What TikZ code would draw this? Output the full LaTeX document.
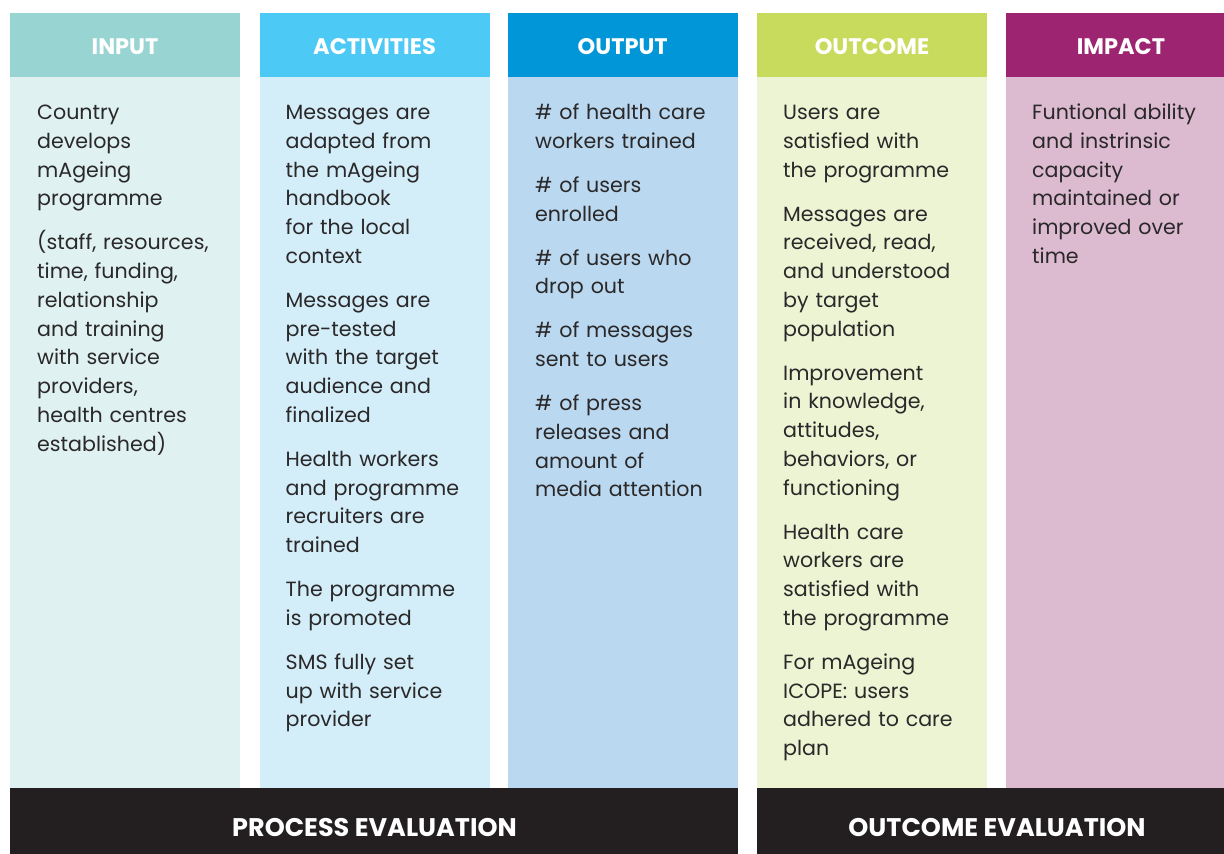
\documentclass[tikz,border=0pt]{standalone}
\usepackage{fontspec}
\setmainfont{Poppins}
\definecolor{inH}{HTML}{97D4D2}
\definecolor{inB}{HTML}{DFF1F1}
\definecolor{acH}{HTML}{4CC9F5}
\definecolor{acB}{HTML}{D3EDF9}
\definecolor{ouH}{HTML}{0096D7}
\definecolor{ouB}{HTML}{BAD8EF}
\definecolor{ocH}{HTML}{C9DB5C}
\definecolor{ocB}{HTML}{ECF4D3}
\definecolor{imH}{HTML}{9C2471}
\definecolor{imB}{HTML}{DCBAD0}
\definecolor{barC}{HTML}{231F20}
\definecolor{txtC}{HTML}{2A2829}
\tikzset{
  hdrtext/.style={text=white,font=\fontsize{22.5}{26}\selectfont\bfseries,inner sep=0pt,anchor=center},
  bodytext/.style={text=txtC,font=\fontsize{20.6}{28.75}\selectfont,inner sep=0pt,anchor=base west,text width=215pt,align=left},
  bartext/.style={text=white,font=\fontsize{25.5}{28}\selectfont\bfseries,inner sep=0pt,anchor=center},
}
\newcommand{\pg}{\\[15.25pt]}
\begin{document}
\begin{tikzpicture}[x=1pt,y=-1pt]
\useasboundingbox (0,0) rectangle (1224,854);
\begin{scope}
\clip (0,0) rectangle (1224,854);
% columns
\fill[inB] (10,13) rectangle (240,788);
\fill[inH] (10,13) rectangle (240,77);
\fill[acB] (259.5,13) rectangle (489.5,788);
\fill[acH] (259.5,13) rectangle (489.5,77);
\fill[ouB] (508,13) rectangle (737.5,788);
\fill[ouH] (508,13) rectangle (737.5,77);
\fill[ocB] (757,13) rectangle (987,788);
\fill[ocH] (757,13) rectangle (987,77);
\fill[imB] (1006,13) rectangle (1236,788);
\fill[imH] (1006,13) rectangle (1236,77);
% bars
\fill[barC] (10,788) rectangle (737.5,854);
\fill[barC] (757,788) rectangle (1236,854);
\end{scope}
% headers
\node[hdrtext] (hin) at (125,47) {INPUT};
\node[hdrtext] (hac) at (374.5,47) {ACTIVITIES};
\node[hdrtext] (hou) at (622.75,47) {OUTPUT};
\node[hdrtext] (hoc) at (872,47) {OUTCOME};
\node[hdrtext] (him) at (1121,47) {IMPACT};
% bodies
\node[bodytext] (bin) at (37,119.5) {Country\\ develops\\ mAgeing\\ programme\pg
(staff, resources,\\ time, funding,\\ relationship\\ and training\\ with service\\ providers,\\ health centres\\ established)};
\node[bodytext] (bac) at (285.5,119.5) {Messages are\\ adapted from\\ the mAgeing\\ handbook\\ for the local\\ context\pg
Messages are\\ pre-tested\\ with the target\\ audience and\\ finalized\pg
Health workers\\ and programme\\ recruiters are\\ trained\pg
The programme\\ is promoted\pg
SMS fully set\\ up with service\\ provider};
\node[bodytext] (bou) at (535,119.5) {\# of health care\\ workers trained\pg
\# of users\\ enrolled\pg
\# of users who\\ drop out\pg
\# of messages\\ sent to users\pg
\# of press\\ releases and\\ amount of\\ media attention};
\node[bodytext] (boc) at (783,119.5) {Users are\\ satisfied with\\ the programme\pg
Messages are\\ received, read,\\ and understood\\ by target\\ population\pg
Improvement\\ in knowledge,\\ attitudes,\\ behaviors, or\\ functioning\pg
Health care\\ workers are\\ satisfied with\\ the programme\pg
For mAgeing\\ ICOPE: users\\ adhered to care\\ plan};
\node[bodytext] (bim) at (1032,119.5) {Funtional ability\\ and instrinsic\\ capacity\\ maintained or\\ improved over\\ time};
% bar labels
\node[bartext] (bpr) at (374.5,828) {PROCESS EVALUATION};
\node[bartext] (boe) at (997,828) {OUTCOME EVALUATION};
\end{tikzpicture}
\end{document}
